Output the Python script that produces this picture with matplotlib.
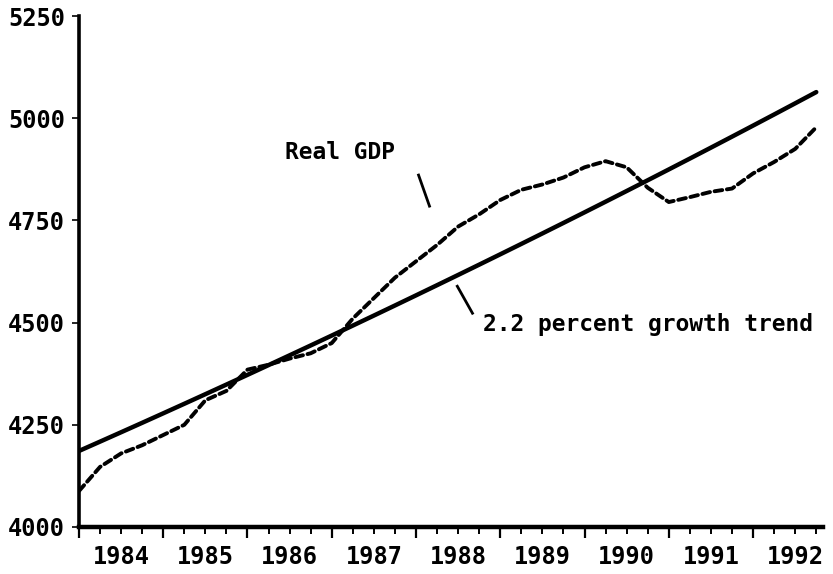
import matplotlib
matplotlib.use("Agg")
from matplotlib import pyplot as plt
from matplotlib.ticker import FixedLocator, FixedFormatter

plt.rcParams['font.family'] = ['DejaVu Sans Mono']
plt.rcParams['font.weight'] = 'bold'

# quarterly real GDP, 1984Q1 - 1992Q4
quarters = [1984 + q / 4 for q in range(36)]
real_gdp = [4088, 4147, 4180, 4200, 4225, 4250, 4310, 4333,
            4385, 4397, 4412, 4425, 4450, 4510, 4560, 4610,
            4650, 4690, 4735, 4765, 4800, 4825, 4838, 4855,
            4880, 4895, 4880, 4830, 4795, 4807, 4820, 4828,
            4865, 4893, 4925, 4978]
trend_start = 4186
growth = 0.022
trend = [trend_start * (1 + growth) ** (t - 1984) for t in quarters]

years = list(range(1984, 1993))
y_ticks = [4000, 4250, 4500, 4750, 5000, 5250]

fig = plt.figure(figsize=(8.33, 5.74), dpi=100)
ax = fig.add_axes([0.0948, 0.0819, 0.8932, 0.8901])

ax.plot(quarters, trend, color='black', lw=3.2, solid_capstyle='round')
ax.plot(quarters, real_gdp, color='black', lw=2.8, linestyle=(0, (2.0, 1.2)),
        dash_capstyle='round')

ax.set_xlim(1984, 1992.83)
ax.set_ylim(4000, 5250)

# annotations
ax.text(1987.10, 4916, 'Real GDP', fontsize=16.5, ha='center', va='center')
ax.plot([1988.03, 1988.16], [4861, 4785], color='black', lw=2.0)
ax.plot([1988.49, 1988.67], [4589, 4523], color='black', lw=2.0)
ax.text(1988.79, 4495, '2.2 percent growth trend', fontsize=16.5,
        ha='left', va='center')

# axes styling
for side in ['top', 'right']:
    ax.spines[side].set_visible(False)
ax.spines['left'].set_linewidth(2.6)
ax.spines['bottom'].set_linewidth(3.2)

ax.set_yticks(y_ticks)
ax.set_yticklabels([str(v) for v in y_ticks], fontsize=17)
ax.tick_params(axis='y', length=5, width=1.2, pad=5)

ax.xaxis.set_major_locator(FixedLocator(years))
ax.xaxis.set_major_formatter(FixedFormatter([''] * len(years)))
minor_pos = [y + q / 4 for y in years for q in (1, 2, 3)]
minor_lab = [str(int(p)) if abs(p - int(p) - 0.5) < 1e-6 else '' for p in minor_pos]
ax.xaxis.set_minor_locator(FixedLocator(minor_pos))
ax.xaxis.set_minor_formatter(FixedFormatter(minor_lab))
ax.tick_params(axis='x', which='major', length=8, width=1.6)
ax.tick_params(axis='x', which='minor', length=5, width=1.4, labelsize=17, pad=8)

fig.savefig('out.png', dpi=100)
